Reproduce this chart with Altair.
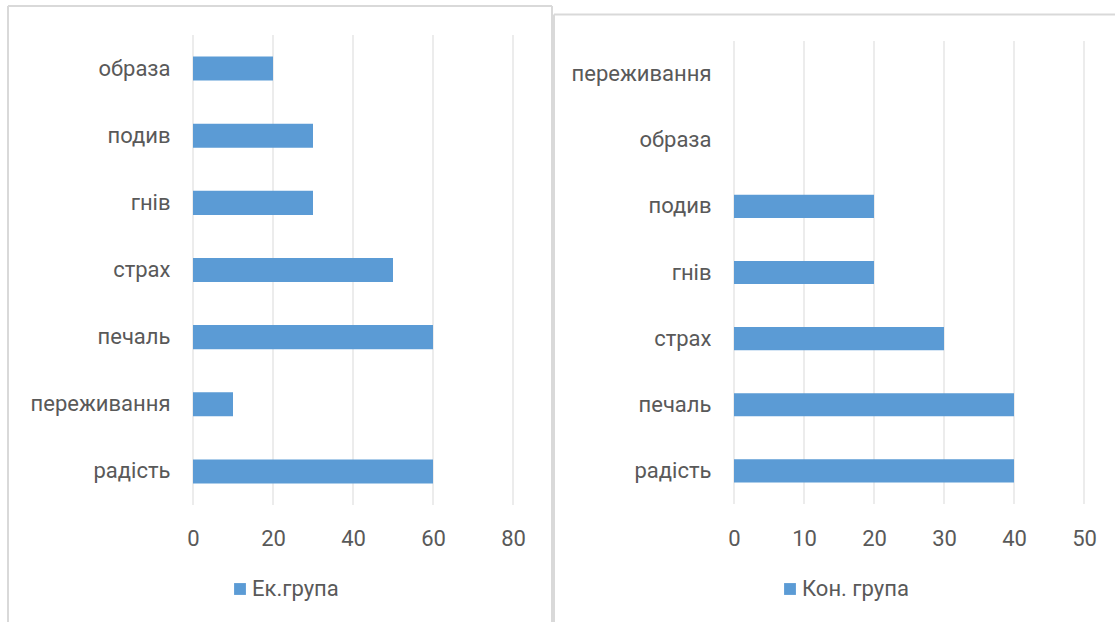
import altair as alt
import pandas as pd

# Experimental group (top to bottom)
ek_categories = ["образа", "подив", "гнів", "страх", "печаль", "переживання", "радість"]
ek_values = [20, 30, 30, 50, 60, 10, 60]
ek_ticks = [0, 20, 40, 60, 80]
ek_label = "Ек.група"

# Control group (top to bottom)
kon_categories = ["переживання", "образа", "подив", "гнів", "страх", "печаль", "радість"]
kon_values = [0, 0, 20, 20, 30, 40, 40]
kon_ticks = [0, 10, 20, 30, 40, 50]
kon_label = "Кон. група"

BAR = "#5b9bd5"
GRID = "#d9d9d9"
TEXT = "#595959"
FONT = "Roboto"
FS = 22
H = 470


def frame_layers(df, x0, x1, y0, y1, right_side=True):
    """Open-bottom panel outline drawn as rules around the panel."""
    style = dict(color=GRID, strokeWidth=2)
    parts = [
        alt.Chart(df).mark_rule(**style).encode(
            x=alt.value(x0), x2=alt.value(x1), y=alt.value(y0)),
        alt.Chart(df).mark_rule(**style).encode(
            x=alt.value(x0), y=alt.value(y0), y2=alt.value(y1)),
    ]
    if right_side:
        parts.append(alt.Chart(df).mark_rule(**style).encode(
            x=alt.value(x1), y=alt.value(y0), y2=alt.value(y1)))
    return parts


def panel(cats, vals, ticks, label, width, pad_inner, pad_outer, align,
          grid_top, grid_bottom, legend_x, frame, right_side):
    bars_df = pd.DataFrame({"cat": cats, "val": vals})
    ticks_df = pd.DataFrame({"t": ticks})
    label_df = pd.DataFrame({"label": [label]})

    x_scale = alt.Scale(domain=[ticks[0], ticks[-1]], nice=False)
    x_axis = alt.Axis(
        values=ticks, grid=False, ticks=False, domain=False,
        labelPadding=23, labelFlush=False, labelOverlap=False, title=None,
        labelFont=FONT, labelFontSize=FS, labelColor=TEXT,
    )

    border = frame_layers(label_df, *frame, right_side=right_side)

    grid = alt.Chart(ticks_df).mark_rule(color=GRID, strokeWidth=1).encode(
        x=alt.X("t:Q", scale=x_scale, axis=x_axis),
        y=alt.value(grid_top),
        y2=alt.value(grid_bottom),
    )

    bars = alt.Chart(bars_df).mark_bar(color=BAR).encode(
        x=alt.X("val:Q", scale=x_scale, axis=x_axis),
        y=alt.Y(
            "cat:N",
            sort=cats,
            scale=alt.Scale(paddingInner=pad_inner, paddingOuter=pad_outer, align=align),
            axis=alt.Axis(
                title=None, ticks=False, domain=False, labelPadding=23,
                labelFont=FONT, labelFontSize=FS, labelColor=TEXT,
                labelLimit=300,
            ),
        ),
    )

    key = alt.Chart(label_df).mark_square(size=140, color=BAR, opacity=1).encode(
        x=alt.value(legend_x), y=alt.value(554)
    )
    key_text = alt.Chart(label_df).mark_text(
        align="left", baseline="middle", font=FONT, fontSize=FS, color=TEXT
    ).encode(x=alt.value(legend_x + 12), y=alt.value(554), text="label:N")

    return alt.layer(*border, grid, bars, key, key_text).properties(width=width, height=H)


left = panel(ek_categories, ek_values, ek_ticks, ek_label, 320,
             0.642, 0.321, 0.5, 0, H, 47, (-185, 359, -29, 587), True)
right = panel(kon_categories, kon_values, kon_ticks, kon_label, 350,
              0.65, 0.378, 0.55, 6, 469, 56, (-180, 381, -20.5, 587), False)

chart = alt.hconcat(left, right, spacing=221, bounds="flush").properties(
    padding={"left": 6, "top": 4, "right": 0, "bottom": 0},
    autosize=alt.AutoSizeParams(type="pad"),
).configure_view(stroke="transparent")

chart.save("out.html", embed_options={"renderer": "svg", "actions": False})
